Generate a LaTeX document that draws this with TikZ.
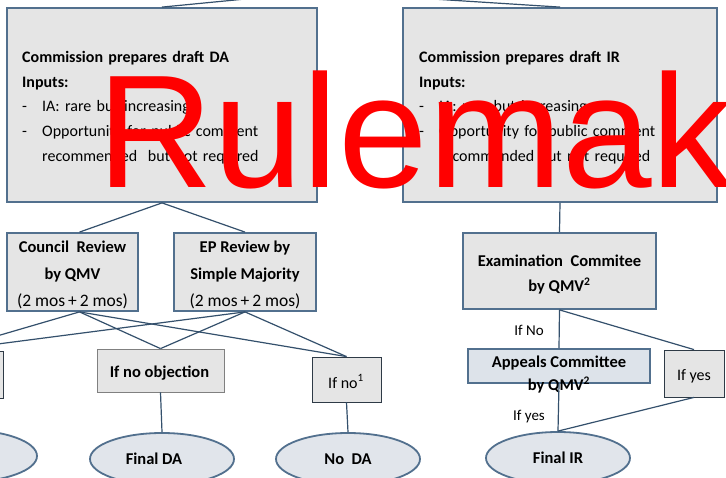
\documentclass[tikz,border=0pt]{standalone}
\usepackage{fontspec}
\setmainfont{Carlito}
\newfontfamily\redfont{Liberation Sans}
\usetikzlibrary{shapes.geometric}
\definecolor{boxblue}{HTML}{52708E}
\definecolor{linecol}{HTML}{34506C}
\definecolor{boxgrey}{HTML}{E5E5E5}
\definecolor{ellfill}{HTML}{E1E5EB}
\definecolor{appfill}{HTML}{DDE3EA}
\definecolor{thinborder}{HTML}{2E3A46}
\begin{document}
\begin{tikzpicture}[x=1pt,y=-1pt,
  bigbox/.style={rectangle,draw=boxblue,line width=1.8pt,fill=boxgrey,inner sep=0pt,minimum height=194pt},
  bigtext/.style={inner sep=0pt,text width=285pt,align=left,font=\fontsize{16}{24.75}\selectfont},
  midbox/.style={rectangle,draw=boxblue,line width=1.8pt,fill=boxgrey,inner sep=0pt},
  midtext/.style={inner sep=0pt,align=center,font=\fontsize{16.5}{27}\selectfont},
  smallbox/.style={rectangle,draw=thinborder,line width=0.8pt,fill=boxgrey,inner sep=0pt,align=center,
    font=\fontsize{16}{20}\selectfont},
  endell/.style={ellipse,draw=boxblue,line width=1.8pt,fill=ellfill,inner sep=0pt,
    minimum width=144pt,minimum height=52pt,font=\bfseries\fontsize{16.5}{20}\selectfont},
  conn/.style={draw=linecol,line width=1.2pt},
  lbl/.style={inner sep=0pt,font=\fontsize{15}{18}\selectfont},
  redtext/.style={inner sep=0pt,text=red,font=\redfont\fontsize{161}{161}\selectfont}
]
\useasboundingbox (0,0) rectangle (726,478);
\clip (0,0) rectangle (726,478);
\fill[white] (0,0) rectangle (726,478);

% free ends above
\coordinate (tl) at (338,-10);
\coordinate (tr) at (291,-10);

% big boxes
\node[bigbox,minimum width=310pt] (lb) at (162,105) {};
\node[bigtext,anchor=north west] (lbtext) at (22,51) {%
  \textbf{Commission prepares draft DA}\\
  \textbf{Inputs:}\\
  \makebox[20pt][l]{-}IA: rare but increasing\\
  \makebox[20pt][l]{-}Opportunity for public comment\\
  \hspace*{20pt}recommended\ \ but not required};
\node[bigbox,minimum width=314pt] (rb) at (560,105) {};
\node[bigtext,anchor=north west] (rbtext) at (419,51) {%
  \textbf{Commission prepares draft IR}\\
  \textbf{Inputs:}\\
  \makebox[20pt][l]{-}IA: rare but increasing\\
  \makebox[20pt][l]{-}Opportunity for public comment\\
  \hspace*{20pt}recommended but not required};

% review boxes
\node[midbox,minimum width=131pt,minimum height=78pt] (council) at (72.5,272) {};
\node[midtext] (counciltext) at (72.5,275)
  {\textbf{Council\ \ Review}\\\textbf{by QMV}\\{\fontsize{17.5}{27}\selectfont(2 mos\,+\,2 mos)}};
\node[midbox,minimum width=142pt,minimum height=78pt] (ep) at (245,272) {};
\node[midtext] (eptext) at (245,275)
  {\textbf{EP Review by}\\\textbf{Simple Majority}\\{\fontsize{17.5}{27}\selectfont(2 mos\,+\,2 mos)}};

% outcome boxes
\node[smallbox,minimum width=113pt,minimum height=47pt] (leftbox) at (-53,374.5) {};
\node[smallbox,draw=gray,minimum width=127pt,minimum height=43pt] (noobj) at (160.5,370.5) {};
\node[inner sep=0pt,font=\bfseries\fontsize{16.5}{20}\selectfont] (noobjtext) at (159.5,373.5) {If no objection};
\node[smallbox,minimum width=69pt,minimum height=45pt] (ifno) at (346.5,379.5) {};
\node[inner sep=0pt,font=\fontsize{16}{20}\selectfont] (ifnotext) at (346,381.5) {If no\textsuperscript{1}};

% ellipses left
\node[endell] (leftell) at (-35,456) {};
\node[endell] (finalda) at (162,459) {};
\node[inner sep=0pt,font=\bfseries\fontsize{16.5}{20}\selectfont] (finaldatext) at (154,459) {Final DA};
\node[endell] (noda) at (348,459) {No\ \ DA};

% right side
\node[midbox,minimum width=193pt,minimum height=76pt] (exam) at (559.5,271) {};
\node[midtext] (examtext) at (559.5,274.5)
  {\textbf{Examination\ \ Commitee}\\[-2pt]\textbf{by QMV\textsuperscript{2}}};
\node[rectangle,draw=boxblue,line width=1.8pt,fill=appfill,minimum width=182pt,minimum height=34pt,inner sep=0pt] (appeals) at (559,366) {};
\node[inner sep=0pt,align=center,font=\bfseries\fontsize{16.5}{23}\selectfont] (apptext) at (559,375) {Appeals Committee\\by QMV\textsuperscript{2}};
\node[smallbox,minimum width=60pt,minimum height=47pt] (ifyes) at (694,373.5) {};
\node[inner sep=0pt,font=\fontsize{16}{20}\selectfont] (ifyestext) at (694,376) {If yes};
\node[endell,minimum width=144pt] (finalir) at (558,458) {Final IR};

% connectors
\draw[conn] (tl) -- (lb.north);
\draw[conn] (tr) -- (rb.north);
\draw[conn] (lb.south) -- ([xshift=7pt]council.north);
\draw[conn] (lb.south) -- (ep.north);
\draw[conn] ([xshift=7pt]council.south) -- (leftbox.north);
\draw[conn] ([xshift=7pt]council.south) -- (noobj.north);
\draw[conn] ([xshift=7pt]council.south) -- (ifno.north);
\draw[conn] (ep.south) -- (leftbox.north);
\draw[conn] (ep.south) -- (noobj.north);
\draw[conn] (ep.south) -- (ifno.north);
\draw[conn] (noobj.south) -- (finalda.north);
\draw[conn] (ifno.south) -- (noda.north);
\draw[conn] (rb.south) -- (exam.north);
\draw[conn] (exam.south) -- (appeals.north);
\draw[conn] (exam.south) -- (ifyes.north);
\draw[conn] (appeals.south) -- (finalir.north);
\draw[conn] (ifyes.south) -- (finalir.north);
\node[lbl] (ifnolbl) at (529,330) {If No};
\node[lbl] (ifyeslbl) at (529,417) {If yes};

% overlaid red text
\node[redtext,anchor=base west] (rule) at (97,188) {Rulemak};
\end{tikzpicture}
\end{document}
